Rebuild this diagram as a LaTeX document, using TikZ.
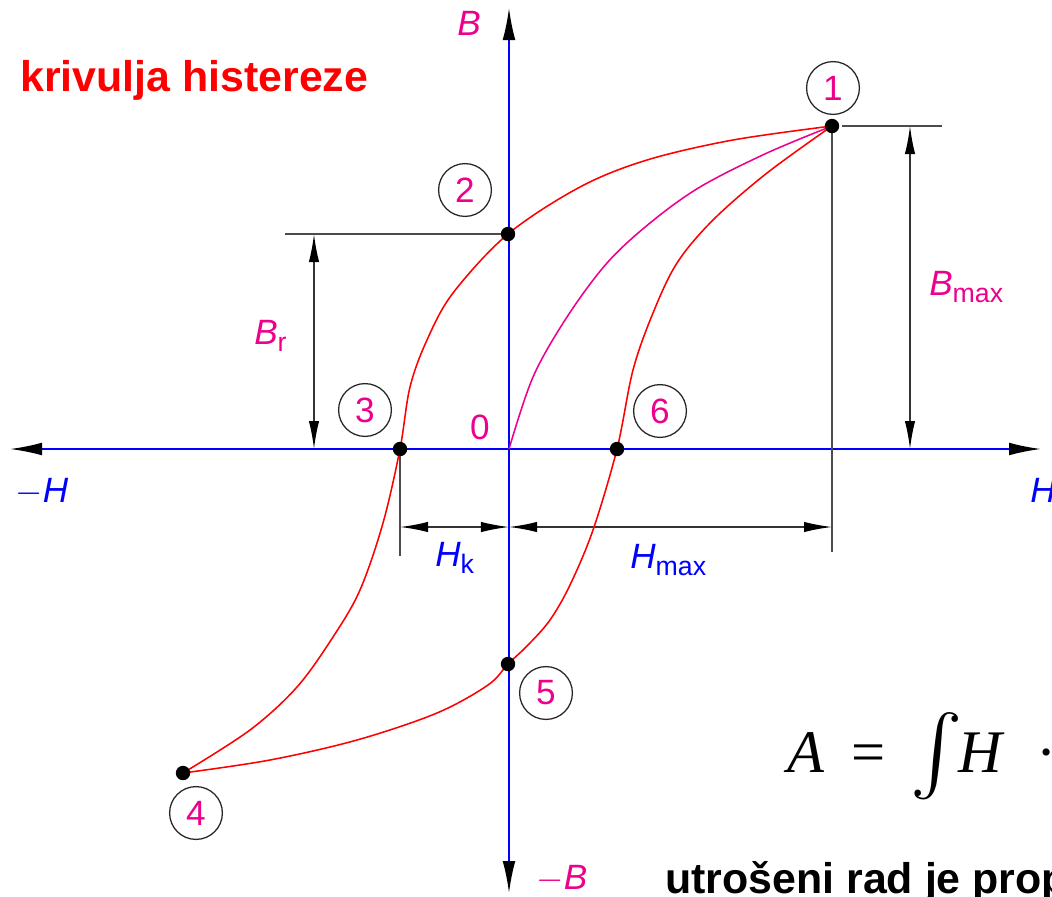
\documentclass[tikz,border=0pt]{standalone}
\usepackage{fontspec}
\setmainfont{Liberation Sans}
\newfontfamily\timesfont{Liberation Serif}
\usetikzlibrary{arrows.meta}

\newcommand{\lblfont}{\fontsize{25}{25}\selectfont}
\newcommand{\subfont}{\fontsize{19}{19}\selectfont}
\newcommand{\bigfont}{\fontsize{30.5}{32}\selectfont\bfseries}
\newcommand{\formfont}{\fontsize{43}{43}\selectfont\timesfont}

\begin{document}
\begin{tikzpicture}[
  x=0.025cm, y=-0.025cm,
  axis/.style={blue, line width=1.3pt,
    {Latex[color=black, length=0.8cm, width=0.32cm]}-{Latex[color=black, length=0.8cm, width=0.32cm]}},
  dim/.style={black!80, line width=1.1pt,
    {Latex[black, length=0.7cm, width=0.26cm]}-{Latex[black, length=0.7cm, width=0.26cm]}},
  ext/.style={black!70, line width=1.1pt},
  curve/.style={red, line width=1.1pt},
  dot/.style={circle, fill=black, inner sep=0pt, minimum size=0.36cm},
  num/.style={circle, draw=black!85, line width=0.9pt, minimum size=1.32cm, inner sep=0pt, text=magenta, font=\lblfont},
  lbl/.style={inner sep=0pt, font=\lblfont},
  form/.style={anchor=base west, inner sep=0pt, font=\formfont}
]
\clip (0,0) rectangle (1052,896);

% axis ends
\coordinate (O) at (509,449);
\coordinate (Hl) at (10,449);
\coordinate (Hr) at (1041,449);
\coordinate (Bt) at (509,8);
\coordinate (Bb) at (509,893);

% points on the loop
\coordinate (P1) at (832,126);
\coordinate (P2) at (508,234);
\coordinate (P3) at (400,449);
\coordinate (P4) at (183,773);
\coordinate (P5) at (508,664);
\coordinate (P6) at (617,449);

\draw[axis] (Hl) -- (Hr);
\draw[axis] (Bb) -- (Bt);

% dimension lines
\coordinate (br0) at (285,234);
\coordinate (br1) at (314,234);
\coordinate (br2) at (314,449);
\coordinate (bm0) at (842,126);
\coordinate (bm3) at (942,126);
\coordinate (bm1) at (910,126);
\coordinate (bm2) at (910,449);
\coordinate (hk0) at (400,556);
\coordinate (hk1) at (400,527);
\coordinate (hk2) at (509,527);
\coordinate (hm0) at (832,552);
\coordinate (hm1) at (832,527);
\draw[ext] (br0) -- (P2);
\draw[ext] (bm0) -- (bm3);
\draw[ext] (P1) -- (hm0);
\draw[ext] (P3) -- (hk0);
\draw[dim] (br1) -- (br2);
\draw[dim] (bm1) -- (bm2);
\draw[dim] (hk1) -- (hk2);
\draw[dim] (hk2) -- (hm1);

% loop
\draw[curve] plot[smooth, tension=0.55] coordinates {(P4) (250,730) (297,687) (333,637) (360,590)
  (383,523) (P3) (410,387) (427,340) (453,293) (P2) (580,187) (647,160) (733,140) (P1)};
\draw[curve] plot[smooth, tension=0.55] coordinates {(P4) (270,760) (357,740) (437,713) (488,685)
  (P5) (528,645) (550,620) (570,585) (593,530) (P6) (633,370) (653,313) (677,263) (713,220) (767,173) (P1)};
\draw[curve, magenta] plot[smooth, tension=0.55] coordinates {(O) (533,377) (567,317) (607,263)
  (650,223) (700,187) (767,153) (P1)};

\node[dot] (p1) at (P1) {};
\node[dot] (p2) at (P2) {};
\node[dot] (p3) at (P3) {};
\node[dot] (p4) at (P4) {};
\node[dot] (p5) at (P5) {};
\node[dot] (p6) at (P6) {};

\node[num] (c1) at (833,88) {1};
\node[num] (c2) at (465,190) {2};
\node[num] (c3) at (365,410) {3};
\node[num] (c4) at (196,813) {4};
\node[num] (c5) at (546,693) {5};
\node[num] (c6) at (660,411) {6};

% labels
\node[lbl, text=magenta] (lB) at (469,23) {\itshape B};
\node[lbl, text=magenta] (lmB) at (562,879) {\itshape $-$B};
\node[lbl, text=blue] (lmH) at (42,492) {\itshape $-$H};
\node[lbl, text=blue, anchor=west] (lH) at (1030,490) {\itshape H};
\node[lbl, text=magenta] (l0) at (480,427) {0};
\node[lbl, text=magenta, anchor=west] (lBr) at (254,336) {\itshape B\textnormal{\raisebox{-0.35ex}{\subfont r}}};
\node[lbl, text=magenta, anchor=west] (lBm) at (929,287) {\itshape B\textnormal{\raisebox{-0.35ex}{\subfont max}}};
\node[lbl, text=blue, anchor=west] (lHk) at (435,558) {\itshape H\textnormal{\raisebox{-0.35ex}{\subfont k}}};
\node[lbl, text=blue, anchor=west] (lHm) at (630,560) {\itshape H\textnormal{\raisebox{-0.35ex}{\subfont max}}};

\node[anchor=west, inner sep=0pt, text=red, font=\bigfont] (title) at (20,80) {krivulja histereze};

% formula
\node[form] (fA) at (787,772) {\itshape A};
\node[form] (feq) at (851,772) {=};
\node[form] (fint) at (910,805) {\scalebox{5.6}{$\int$}};
\node[form] (fH) at (958,772) {\itshape H};
\node[form] (fd) at (1036,772) {·\itshape d};

\node[anchor=base west, inner sep=0pt, font=\bigfont] (note) at (665,893) {utrošeni rad je prop};
\end{tikzpicture}
\end{document}
